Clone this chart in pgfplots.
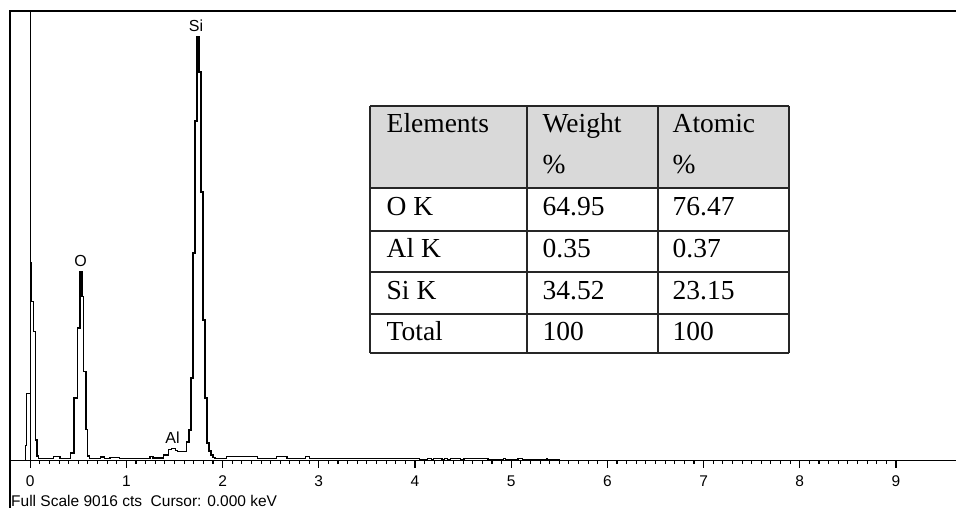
\documentclass[border=0pt]{standalone}
\usepackage{fontspec}
\setmainfont{Liberation Serif}
\newfontfamily\sansf{Liberation Sans}
\newfontfamily\tabf{Liberation Serif}
\usepackage{pgfplots}
\pgfplotsset{compat=1.18}
\begin{document}
\begin{tikzpicture}[x=1pt,y=1pt]
\useasboundingbox (0,0) rectangle (956,-508);
\begin{axis}[
  at={(10pt,-460.5pt)}, anchor=south west,
  scale only axis, width=946pt, height=449.5pt,
  xmin=-0.21, xmax=9.624, ymin=0, ymax=9016,
  axis x line*=bottom, axis y line=none,
  x axis line style={line width=1.3pt, black},
  xtick={0,1,...,9}, minor x tick num=9,
  tick align=outside, major tick length=7pt, minor tick length=3.5pt,
  every tick/.style={black, line width=1.1pt},
  ytick=\empty,
  /pgf/number format/assume math mode=true,
  xticklabel style={font=\sansf\fontsize{15.5}{15.5}\selectfont, inner sep=1pt, yshift=-7pt},
]
\draw[black, line width=1pt] (axis cs:0.004,0) -- (axis cs:0.004,9016);
\addplot[const plot mark left, black, line width=1.3pt] coordinates {
(-0.21,0) (-0.05,0) (-0.048,300) (-0.037,1348) (0.004,3962) (0.016,3186)
(0.031,2584) (0.056,411) (0.070,90) (0.085,45) (0.24,80) (0.31,45)
(0.42,150) (0.454,1256) (0.489,2660) (0.517,3787) (0.540,3290) (0.551,1790)
(0.579,620) (0.597,90) (0.615,45) (0.73,70) (0.77,45) (0.83,65) (0.93,45)
(1.245,85) (1.275,50) (1.383,110) (1.435,225) (1.47,245) (1.511,196) (1.532,177)
(1.624,371) (1.650,612) (1.670,1655) (1.691,4162) (1.712,6810) (1.733,8496)
(1.754,7793) (1.775,5386) (1.796,2818) (1.816,1254) (1.837,351) (1.858,191)
(1.878,110) (1.899,60) (1.92,35) (2.04,85) (2.36,45) (2.56,75) (2.67,45)
(2.86,75) (2.90,45) (4.05,20) (4.13,45) (4.17,20) (4.19,45) (4.28,20)
(4.31,45) (4.34,20) (4.37,45) (4.47,20) (4.51,45) (4.76,20) (4.92,45)
(4.94,20) (5.07,45) (5.12,20) (5.37,45) (5.38,12) (5.5,5) (9.624,5)
};
\end{axis}
% frame
\draw[line width=2pt, black] (9.5,-508) -- (9.5,-11) -- (956,-11);
% peak labels
\node[font=\sansf\fontsize{16}{16}\selectfont, inner sep=0] at (196,-26) {Si};
\node[font=\sansf\fontsize{16}{16}\selectfont, inner sep=0] at (80.5,-261) {O};
\node[font=\sansf\fontsize{16}{16}\selectfont, inner sep=0] at (172.5,-438) {Al};
\node[font=\sansf\fontsize{15.5}{15.5}\selectfont, anchor=base west, inner sep=0] at (11,-506) {Full Scale 9016 cts\ \ Cursor: 0.000 keV};
% table
\fill[black!15] (370,-106) rectangle (789,-188);
\begin{scope}[line width=1.3pt, black!85]
\foreach \yy in {106,188,231,272,314,353} {\draw (370,-\yy) -- (789,-\yy);}
\foreach \xx in {370,527,658,789} {\draw (\xx,-106) -- (\xx,-353);}
\end{scope}
\begin{scope}[every node/.style={anchor=base west, inner sep=0, font=\tabf\fontsize{27.5}{30}\selectfont}]
\node at (386.5,-133) {Elements};
\node at (542.5,-133) {Weight};
\node at (542.5,-173) {\%};
\node at (672.5,-133) {Atomic};
\node at (672.5,-173) {\%};
\node at (386.5,-215) {O K};
\node at (542.5,-215) {64.95};
\node at (672.5,-215) {76.47};
\node at (386.5,-257) {Al K};
\node at (542.5,-257) {0.35};
\node at (672.5,-257) {0.37};
\node at (386.5,-299) {Si K};
\node at (542.5,-299) {34.52};
\node at (672.5,-299) {23.15};
\node at (386.5,-340) {Total};
\node at (542.5,-340) {100};
\node at (672.5,-340) {100};
\end{scope}
\end{tikzpicture}
\end{document}
